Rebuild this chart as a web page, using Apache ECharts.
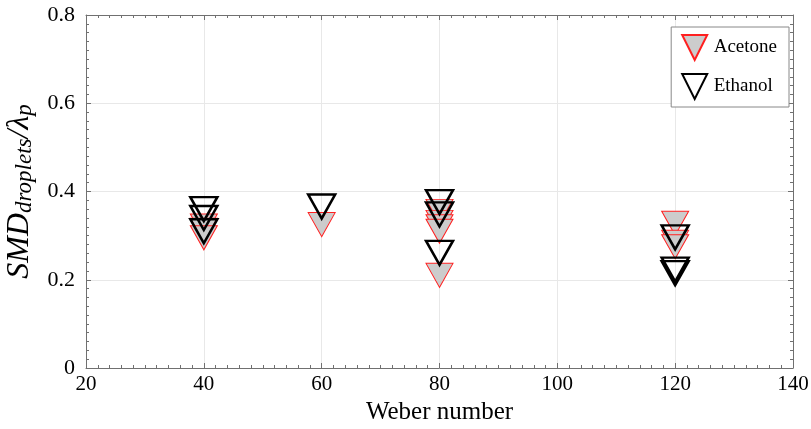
<!DOCTYPE html>
<html>
<head>
<meta charset="utf-8">
<script src="https://cdn.jsdelivr.net/npm/echarts@6/dist/echarts.min.js"></script>
<style>
  html, body { margin: 0; padding: 0; background: #fff; }
  #chart { width: 811px; height: 429px; }
</style>
</head>
<body>
<div id="chart"></div>
<script>
// values
const acetoneWeber = [40, 40, 40, 60, 80, 80, 80, 80, 80, 120, 120, 120]
const acetoneSmd = [0.322, 0.312, 0.295, 0.325, 0.355, 0.33, 0.32, 0.31, 0.21, 0.328, 0.285, 0.275]
const ethanolWeber = [40, 40, 40, 60, 80, 80, 80, 120, 120, 120]
const ethanolSmd = [0.36, 0.34, 0.31, 0.366, 0.376, 0.348, 0.261, 0.296, 0.223, 0.215]
const seriesNames = ['Acetone', 'Ethanol']

const font = 'Liberation Serif'
const frameColor = '#707070'
const downTriangle = 'path://M0,0L10,0L5,10Z'

const pairs = (xs, ys) => xs.map((x, i) => [x, ys[i]])

const chart = echarts.init(document.getElementById('chart'))

const frameAxis = {
  axisLine: { show: true, onZero: false, lineStyle: { color: frameColor, width: 1 } },
  axisTick: { show: true, inside: true, length: 5, lineStyle: { color: frameColor } },
  minorTick: { show: true, splitNumber: 10, length: 3, lineStyle: { color: frameColor } },
  axisLabel: { show: false },
  splitLine: { show: false }
}

const option = {
  animation: false,
  textStyle: { fontFamily: font },
  grid: { left: 86, right: 18, top: 15, bottom: 61, outerBoundsMode: 'none', containLabel: false },
  legend: {
    data: seriesNames.map(n => ({ name: n, icon: downTriangle })),
    orient: 'vertical',
    right: 22,
    top: 27,
    itemWidth: 28,
    itemHeight: 25,
    itemGap: 12,
    padding: [7, 12, 7, 10],
    borderColor: '#888',
    borderWidth: 1,
    backgroundColor: '#fff',
    textStyle: { fontFamily: font, fontSize: 19, color: '#000' }
  },
  xAxis: [
    {
      type: 'value',
      min: 20,
      max: 140,
      interval: 20,
      name: 'Weber number',
      nameLocation: 'middle',
      nameGap: 32,
      nameTextStyle: { fontFamily: font, fontSize: 25, color: '#000' },
      axisLine: { show: true, onZero: false, lineStyle: { color: frameColor, width: 1 } },
      axisTick: { show: true, inside: true, length: 5, lineStyle: { color: frameColor } },
      minorTick: { show: true, splitNumber: 10, length: 3, lineStyle: { color: frameColor } },
      axisLabel: { fontFamily: font, fontSize: 21, color: '#000', margin: 6 },
      splitLine: { show: true, lineStyle: { color: '#e8e8e8', width: 1 } }
    },
    Object.assign({ type: 'value', position: 'top', min: 20, max: 140, interval: 20 }, frameAxis)
  ],
  yAxis: [
    {
      type: 'value',
      min: 0,
      max: 0.8,
      interval: 0.2,
      name: '{i|SMD}{s|droplets}{i|/λ}{s|p}',
      nameLocation: 'middle',
      nameGap: 41,
      nameTextStyle: {
        rich: {
          i: { fontFamily: font, fontStyle: 'italic', fontSize: 32, color: '#000' },
          s: { fontFamily: font, fontStyle: 'italic', fontSize: 23, color: '#000', padding: [12, 0, 0, 0] }
        }
      },
      axisLine: { show: true, onZero: false, lineStyle: { color: frameColor, width: 1 } },
      axisTick: { show: true, inside: true, length: 5, lineStyle: { color: frameColor } },
      minorTick: { show: true, splitNumber: 10, length: 3, lineStyle: { color: frameColor } },
      axisLabel: {
        fontFamily: font, fontSize: 22, color: '#000', margin: 11,
        formatter: v => (v === 0 ? '0' : v.toFixed(1))
      },
      splitLine: { show: true, lineStyle: { color: '#e8e8e8', width: 1 } }
    },
    Object.assign({ type: 'value', position: 'right', min: 0, max: 0.8, interval: 0.2 }, frameAxis)
  ],
  series: [
    {
      name: seriesNames[0],
      type: 'scatter',
      symbol: 'triangle',
      symbolRotate: 180,
      symbolSize: [27, 24],
      itemStyle: { color: '#cccccc', borderColor: '#ff2020', borderWidth: 1, opacity: 1 },
      data: pairs(acetoneWeber, acetoneSmd)
    },
    {
      name: seriesNames[1],
      type: 'scatter',
      symbol: 'triangle',
      symbolRotate: 180,
      symbolSize: [27, 24],
      itemStyle: { color: 'rgba(0,0,0,0)', borderColor: '#000', borderWidth: 2.5, opacity: 1 },
      data: pairs(ethanolWeber, ethanolSmd)
    }
  ]
}

chart.setOption(option)
</script>
</body>
</html>
